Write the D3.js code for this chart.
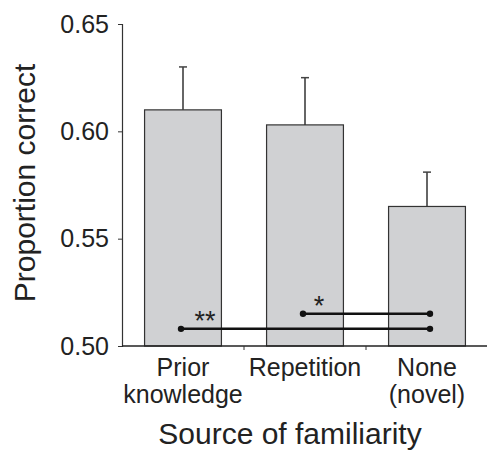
<!DOCTYPE html>
<html>
<head>
<meta charset="utf-8">
<script src="https://cdn.jsdelivr.net/npm/d3@7"></script>
<style>
  body { margin: 0; background: #fff; }
  text { font-family: "Liberation Sans", Arial, Helvetica, sans-serif; fill: #222; }
</style>
</head>
<body>
<div id="chart"></div>
<script>
var categories = [["Prior", "knowledge"], ["Repetition"], ["None", "(novel)"]];
var means = [0.610, 0.603, 0.565];
var errTops = [0.630, 0.625, 0.581];
var yTicks = [0.50, 0.55, 0.60, 0.65];
// significance brackets: from bar, to bar, level, label
var sigFrom = [0, 1];
var sigTo = [2, 2];
var sigLevel = [0.508, 0.515];
var sigLabel = ["**", "*"];

var width = 487, height = 450;

var svg = d3.select("#chart").append("svg")
  .attr("width", width)
  .attr("height", height);

var x = d3.scaleBand()
  .domain(d3.range(categories.length))
  .range([122, 488])
  .paddingInner(0.37)
  .paddingOuter(0.185);

var y = d3.scaleLinear()
  .domain([0.50, 0.65])
  .range([346, 24]);

// bars
svg.selectAll("rect.bar")
  .data(means)
  .enter()
  .append("rect")
  .attr("class", "bar")
  .attr("x", function(d, i) { return x(i); })
  .attr("y", function(d) { return y(d); })
  .attr("width", x.bandwidth())
  .attr("height", function(d) { return y(0.50) - y(d); })
  .attr("fill", "#d0d1d3")
  .attr("stroke", "#333")
  .attr("stroke-width", 1.2);

// error bars
var cx = function(i) { return x(i) + x.bandwidth() / 2; };
svg.selectAll("line.err")
  .data(errTops)
  .enter()
  .append("line")
  .attr("x1", function(d, i) { return cx(i); })
  .attr("x2", function(d, i) { return cx(i); })
  .attr("y1", function(d, i) { return y(means[i]); })
  .attr("y2", function(d) { return y(d); })
  .attr("stroke", "#333")
  .attr("stroke-width", 1.5);
svg.selectAll("line.cap")
  .data(errTops)
  .enter()
  .append("line")
  .attr("x1", function(d, i) { return cx(i) - 4; })
  .attr("x2", function(d, i) { return cx(i) + 4; })
  .attr("y1", function(d) { return y(d); })
  .attr("y2", function(d) { return y(d); })
  .attr("stroke", "#444")
  .attr("stroke-width", 1.5);

// y axis
var yAxis = d3.axisLeft(y)
  .tickValues(yTicks)
  .tickFormat(d3.format(".2f"))
  .tickSize(4)
  .tickPadding(9);
var gy = svg.append("g")
  .attr("transform", "translate(122,0)")
  .call(yAxis);
gy.select(".domain").attr("stroke", "#333").attr("stroke-width", 1.2);
gy.selectAll(".tick line").attr("stroke", "#333");
gy.selectAll(".tick text")
  .attr("font-size", 25)
  .attr("font-family", "Liberation Sans, Arial, sans-serif")
  .attr("fill", "#222");

// x axis line with ticks between bands
svg.append("line")
  .attr("x1", 122).attr("x2", 488)
  .attr("y1", y(0.50)).attr("y2", y(0.50))
  .attr("stroke", "#222")
  .attr("stroke-width", 1.5);
svg.selectAll("line.xtick")
  .data(d3.range(1, categories.length))
  .enter()
  .append("line")
  .attr("x1", function(i) { return x(i) - x.step() * x.paddingInner() / 2; })
  .attr("x2", function(i) { return x(i) - x.step() * x.paddingInner() / 2; })
  .attr("y1", y(0.50))
  .attr("y2", y(0.50) + 4)
  .attr("stroke", "#333");

// category labels
var lab = svg.selectAll("text.cat")
  .data(categories)
  .enter()
  .append("text")
  .attr("class", "cat")
  .attr("text-anchor", "middle")
  .attr("font-size", 25);
lab.selectAll("tspan")
  .data(function(d, i) { return d.map(function(s) { return { s: s, i: i }; }); })
  .enter()
  .append("tspan")
  .attr("x", function(d) { return cx(d.i); })
  .attr("y", function(d, j) { return 376 + j * 27; })
  .text(function(d) { return d.s; });

// significance lines
svg.selectAll("line.sig")
  .data(sigLevel)
  .enter()
  .append("line")
  .attr("x1", function(d, i) { return cx(sigFrom[i]) - 2; })
  .attr("x2", function(d, i) { return cx(sigTo[i]) + 3; })
  .attr("y1", function(d) { return y(d); })
  .attr("y2", function(d) { return y(d); })
  .attr("stroke", "#111")
  .attr("stroke-width", 2.5);
sigLevel.forEach(function(d, i) {
  [cx(sigFrom[i]) - 2, cx(sigTo[i]) + 3].forEach(function(px) {
    svg.append("circle")
      .attr("cx", px).attr("cy", y(d))
      .attr("r", 3.2)
      .attr("fill", "#111");
  });
  svg.append("text")
    .attr("x", cx(sigFrom[i]) + (i == 0 ? 22 : 14))
    .attr("y", y(d) + 1)
    .attr("text-anchor", "middle")
    .attr("font-size", 27)
    .text(sigLabel[i]);
});

// axis titles
svg.append("text")
  .attr("transform", "translate(35,183) rotate(-90)")
  .attr("text-anchor", "middle")
  .attr("font-size", 30)
  .text("Proportion correct");
svg.append("text")
  .attr("x", 290)
  .attr("y", 444)
  .attr("text-anchor", "middle")
  .attr("font-size", 30)
  .text("Source of familiarity");
</script>
</body>
</html>
